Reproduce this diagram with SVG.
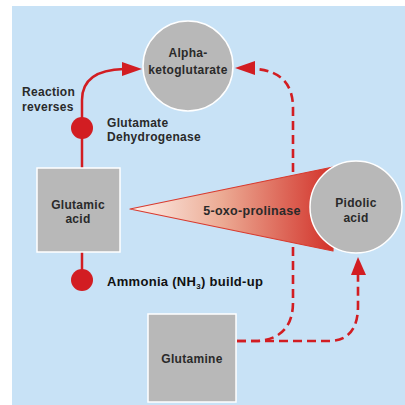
<svg xmlns="http://www.w3.org/2000/svg" width="405" height="405" viewBox="0 0 405 405">
<defs>
<style>
.t{font-family:"Liberation Sans",Arial,sans-serif;font-size:12px;letter-spacing:0.3px;font-weight:bold;fill:#2a2a2a;text-anchor:middle}
.tl{text-anchor:start}
.node{fill:#b8b8b8;stroke:#ffffff;stroke-width:1.5}
.solid{fill:none;stroke:#d21d22;stroke-width:2.5}
.dash{fill:none;stroke:#d21d22;stroke-width:2.6;stroke-dasharray:9 5}
.dot{fill:#d21d22}
</style>
<linearGradient id="cone" x1="130" y1="0" x2="333" y2="0" gradientUnits="userSpaceOnUse">
<stop offset="0" stop-color="#fdf1ec"/>
<stop offset="0.45" stop-color="#ecab94"/>
<stop offset="1" stop-color="#d2322a"/>
</linearGradient>
</defs>
<rect x="0" y="0" width="405" height="405" fill="#ffffff"/>
<rect x="12" y="6" width="393" height="399" fill="#c8e2f6"/>
<g id="connectors">
<path class="solid" d="M82,128 V100 Q82,70 124,69"/>
<polygon class="dot" points="142,69 122,62 122,76"/>
<path class="solid" d="M82,128 V168"/>
<path class="solid" d="M82,252 V280"/>
<path class="dash" d="M237,341 H258 Q293,338 293,302 V108 Q293,72 256,69"/>
<polygon class="dot" points="235,68 255,61 255,75"/>
<path class="dash" d="M237,341 H330 Q358,340 358,306 V274"/>
<polygon class="dot" points="358,257 351,275 366,275"/>
</g>
<g id="prolinase">
<polygon points="130,209 333,167 333,251" fill="url(#cone)" stroke="#d83a2e" stroke-width="1.2" stroke-linejoin="round"/>
<text class="t" x="252" y="215" style="font-weight:600;font-size:12.5px">5-oxo-prolinase</text>
</g>
<g id="alpha">
<circle class="node" cx="188" cy="66" r="45"/>
<text class="t" x="188" y="57">Alpha-</text>
<text class="t" x="188" y="74">ketoglutarate</text>
</g>
<g id="pidolic">
<circle class="node" cx="356" cy="207" r="46"/>
<text class="t" x="356" y="207">Pidolic</text>
<text class="t" x="356" y="222">acid</text>
</g>
<g id="glutamic">
<rect class="node" x="37" y="168" width="83" height="84"/>
<text class="t" x="78" y="209">Glutamic</text>
<text class="t" x="78" y="223">acid</text>
</g>
<g id="glutamine">
<rect class="node" x="148" y="314" width="88" height="88"/>
<text class="t" x="192" y="363">Glutamine</text>
</g>
<g id="dehydrogenase">
<circle class="dot" cx="82" cy="128" r="11"/>
<text class="t tl" x="22" y="96">Reaction</text>
<text class="t tl" x="22" y="111">reverses</text>
<text class="t tl" x="107" y="127">Glutamate</text>
<text class="t tl" x="107" y="141">Dehydrogenase</text>
</g>
<g id="ammonia">
<circle class="dot" cx="82" cy="280" r="11"/>
<text class="t tl" x="107" y="286" style="fill:#111;font-size:13px">Ammonia (NH<tspan font-size="8" dy="3">3</tspan><tspan dy="-3">) build-up</tspan></text>
</g>
</svg>
